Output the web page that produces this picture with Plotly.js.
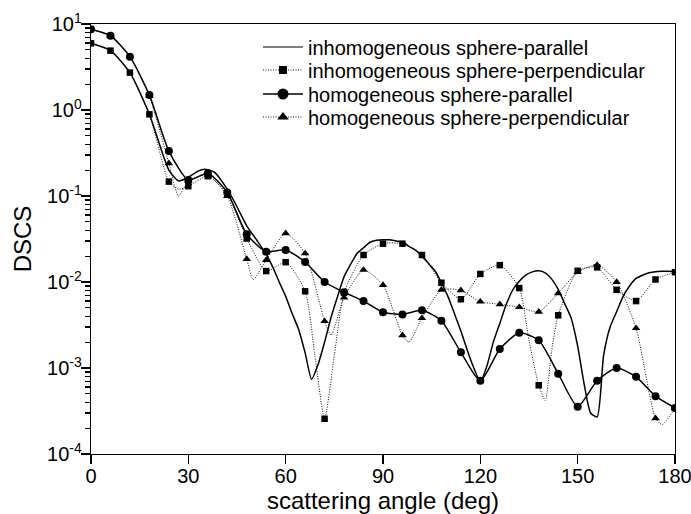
<!DOCTYPE html>
<html><head><meta charset="utf-8">
<script src="https://cdn.plot.ly/plotly-3.0.1.min.js"></script>
<style>html,body{margin:0;padding:0;background:#fff}</style>
</head><body>
<div id="chart" style="width:691px;height:514px"></div>
<script>
// Series names
const names = [
  'inhomogeneous sphere-parallel',
  'inhomogeneous sphere-perpendicular',
  'homogeneous sphere-parallel',
  'homogeneous sphere-perpendicular'
];

// inhomogeneous sphere-parallel (line only)
const angInhPar = [0,6,12,18,24,27,30,33,35,38,42,45,48,51,54,56,58,60,62,64,66,68,70,72,74,76,78,80,82,84,86,88,90,92,94,96,98,100,102,104,106,108,110,112,114,116,118,120,122,124,126,128,130,132,134,136,138,140,142,144,146,148,150,152,154,156,158,160,162,164,166,168,170,172,174,176,178,180];
const valInhPar = [5.96,4.9,2.72,0.89,0.2,0.15,0.165,0.195,0.205,0.19,0.12,0.075,0.045,0.031,0.021,0.015,0.01,0.0068,0.0043,0.0028,0.0015,0.00074,0.0011,0.002,0.0039,0.0068,0.0115,0.016,0.0214,0.025,0.029,0.0305,0.031,0.031,0.030,0.0292,0.026,0.0235,0.02,0.0165,0.0135,0.0098,0.0068,0.0043,0.0027,0.0016,0.001,0.00069,0.00105,0.002,0.0033,0.0055,0.0081,0.0102,0.012,0.0131,0.0135,0.0128,0.0108,0.0082,0.0056,0.0038,0.0018,0.00065,0.0003,0.00027,0.0014,0.003,0.0045,0.0068,0.009,0.011,0.012,0.0128,0.0132,0.0133,0.0133,0.0132];

// inhomogeneous sphere-perpendicular (squares every 6 deg)
const angInhPerp = [0,6,12,18,24,27,30,36,42,48,54,60,66,69,72,75,78,84,90,96,102,108,114,120,126,132,135,138,140,142,144,150,156,162,168,174,180];
const valInhPerp = [5.96,4.9,2.72,0.89,0.147,0.12,0.13,0.17,0.105,0.032,0.0134,0.017,0.0078,0.0014,0.000257,0.0014,0.0075,0.0206,0.0279,0.0279,0.0206,0.0098,0.0063,0.0124,0.0157,0.0085,0.0021,0.00063,0.00042,0.0016,0.0041,0.0135,0.0148,0.0081,0.006,0.0107,0.013];

// homogeneous sphere-parallel (circles every 6 deg)
const angHomPar = [0,6,12,18,24,30,36,42,48,54,60,66,72,78,84,90,96,102,108,114,120,126,132,138,144,150,156,162,168,174,180];
const valHomPar = [8.7,7.3,4.17,1.49,0.333,0.153,0.184,0.11,0.0359,0.0225,0.0236,0.0171,0.01,0.0076,0.006,0.00445,0.0042,0.0047,0.00355,0.00152,0.00071,0.00166,0.00257,0.0021,0.00086,0.000355,0.00071,0.001,0.00079,0.00047,0.000343];

// homogeneous sphere-perpendicular (triangles every 6 deg)
const angHomPerp = [0,6,12,18,24,27,30,36,42,48,50,54,60,66,72,74,78,84,90,96,98,102,108,114,120,126,132,138,144,150,156,162,168,174,176,180];
const valHomPerp = [8.7,7.3,4.17,1.45,0.24,0.1,0.15,0.175,0.1,0.0185,0.0107,0.018,0.0368,0.0215,0.0035,0.0024,0.0066,0.0138,0.0092,0.0024,0.002,0.0038,0.0081,0.008,0.0059,0.0055,0.0051,0.0045,0.0074,0.013,0.0158,0.01,0.0029,0.00026,0.00022,0.00034];

const xTicks = [0,30,60,90,120,150,180];
const yTickVals = [1e-4,1e-3,1e-2,1e-1,1,10];
const yTickText = ['10<sup>-4</sup>','10<sup>-3</sup>','10<sup>-2</sup>','10<sup>-1</sup>','10<sup>0</sup>','10<sup>1</sup>'];

const onSix = (angles, s) => angles.map(a => (a % 6 === 0 ? s : 0));
const solid = {color:'#000', width:1.5, shape:'spline', smoothing:0.6};
const dotted = {color:'#111', width:1, dash:'1px,1.5px', shape:'spline', smoothing:0.6};

const traces = [
  {x:angInhPar, y:valInhPar, mode:'lines', line:solid, showlegend:false, hoverinfo:'skip'},
  {x:angInhPerp, y:valInhPerp, mode:'lines+markers', line:dotted,
   marker:{symbol:'square', color:'#000', opacity:1, line:{width:0}, size:onSix(angInhPerp,6.5)}, showlegend:false},
  {x:angHomPar, y:valHomPar, mode:'lines+markers', line:solid,
   marker:{symbol:'circle', color:'#000', opacity:1, size:8}, showlegend:false},
  {x:angHomPerp, y:valHomPerp, mode:'lines+markers', line:dotted,
   marker:{symbol:'triangle-up', color:'#000', opacity:1, line:{width:0}, size:onSix(angHomPerp,7.5)}, showlegend:false},
  // legend entries
  {x:[null], y:[null], name:names[0], mode:'lines', line:{color:'#000', width:1.2}, legend:'legend'},
  {x:[null], y:[null], name:names[1], mode:'lines+markers', line:{color:'#111', width:1, dash:'1px,1.5px'},
   marker:{symbol:'square', color:'#000', size:8}, legend:'legend2'},
  {x:[null], y:[null], name:names[2], mode:'lines+markers', line:{color:'#000', width:1.5},
   marker:{symbol:'circle', color:'#000', size:11}, legend:'legend3'},
  {x:[null], y:[null], name:names[3], mode:'lines+markers', line:{color:'#111', width:1, dash:'1px,1.5px'},
   marker:{symbol:'triangle-up', color:'#000', size:10}, legend:'legend4'}
];

const FONT = 'Liberation Sans, Arial, sans-serif';
function leg(ypx) {
  return {x:(258-91)/584, xanchor:'left', y:(454-ypx)/430, yanchor:'middle',
          bgcolor:'rgba(0,0,0,0)', borderwidth:0, font:{family:FONT, size:20, color:'#000'},
          itemwidth:40};
}

const layout = {
  width:691, height:514,
  margin:{l:91, r:16, t:24, b:60, pad:0},
  paper_bgcolor:'#fff', plot_bgcolor:'#fff',
  font:{family:FONT, color:'#000'},
  showlegend:true,
  legend:leg(47), legend2:leg(70), legend3:leg(94), legend4:leg(117),
  xaxis:{
    range:[0,180], tickvals:xTicks, ticktext:xTicks.map(String),
    ticks:'outside', ticklen:9, tickwidth:1.2, tickcolor:'#000',
    ticklabelstandoff:-5, ticklabeloverflow:'allow',
    showline:true, linecolor:'#000', linewidth:1.2, mirror:true,
    showgrid:false, zeroline:false,
    tickfont:{family:FONT, size:20, color:'#000'},
    title:{text:'scattering angle (deg)', font:{family:FONT, size:24, color:'#000'}, standoff:0}
  },
  yaxis:{
    type:'log', range:[-4,1], tickvals:yTickVals, ticktext:yTickText,
    ticks:'outside', ticklen:9, tickwidth:1.2, tickcolor:'#000',
    ticklabelstandoff:-5,
    minor:{ticks:'outside', ticklen:5, tickcolor:'#000', dtick:'D1', showgrid:false},
    showline:true, linecolor:'#000', linewidth:1.2, mirror:true,
    showgrid:false, zeroline:false,
    tickfont:{family:FONT, size:20, color:'#000'},
    title:{text:'DSCS', font:{family:FONT, size:24, color:'#000'}, standoff:8}
  }
};

Plotly.newPlot('chart', traces, layout, {displayModeBar:false, staticPlot:true});
</script>
</body></html>
